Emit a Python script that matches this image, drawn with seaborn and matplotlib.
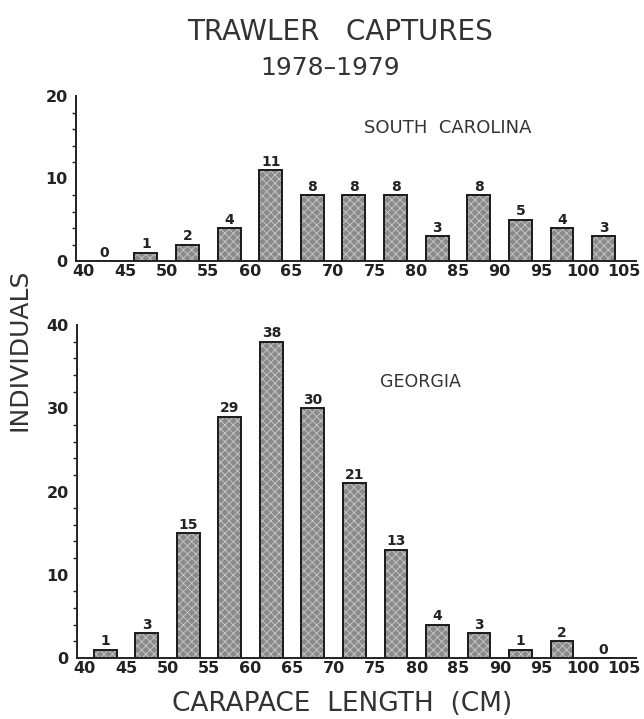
import matplotlib
matplotlib.use("Agg")
import matplotlib.pyplot as plt
import seaborn as sns
import pandas as pd
import numpy as np

# ---- data ----
bin_starts = [40, 45, 50, 55, 60, 65, 70, 75, 80, 85, 90, 95, 100]
south_carolina = [0, 1, 2, 4, 11, 8, 8, 8, 3, 8, 5, 4, 3]
georgia = [1, 3, 15, 29, 38, 30, 21, 13, 4, 3, 1, 2, 0]
x_ticks = [40, 45, 50, 55, 60, 65, 70, 75, 80, 85, 90, 95, 100, 105]

sns.set_theme(style="white")
plt.rcParams["font.family"] = ["DejaVu Sans"]
plt.rcParams["hatch.linewidth"] = 0.6

W, H = 644, 719
fig = plt.figure(figsize=(W / 100, H / 100), dpi=100)
fig.patch.set_facecolor("white")

def axes_px(left, top, right, bottom):
    return fig.add_axes([left / W, 1 - bottom / H, (right - left) / W, (bottom - top) / H])

ax_top = axes_px(76, 96, 636, 261)
ax_bot = axes_px(77, 325, 636, 658)

def draw(ax, values, ymax, yticks, label, lx, ly, lsize):
    df = pd.DataFrame({"center": [b + 2.5 for b in bin_starts], "n": values})
    sns.barplot(data=df, x="center", y="n", native_scale=True, width=0.55,
                color="#8a8a8a", edgecolor="#cacaca", linewidth=0, hatch="xxxx",
                ax=ax, errorbar=None, saturation=1)
    fill_container = ax.containers[-1]
    sns.barplot(data=df, x="center", y="n", native_scale=True, width=0.55,
                fill=False, edgecolor="#1a1a1a", linewidth=1.4,
                ax=ax, errorbar=None)
    ax.bar_label(fill_container, labels=[str(v) for v in values], padding=1,
                 fontsize=10, fontweight="bold", color="#222222")
    ax.set_xlim(39.1, 106.4)
    ax.set_ylim(0, ymax)
    ax.set_xticks(x_ticks)
    ax.set_xticklabels([str(t) for t in x_ticks], fontsize=11.5, fontweight="bold", color="#222222")
    ax.set_yticks(yticks)
    ax.set_yticklabels([str(t) for t in yticks], fontsize=11.5, fontweight="bold", color="#222222")
    ax.set_yticks(np.arange(0, ymax + 0.1, 2), minor=True)
    ax.tick_params(axis="x", which="major", direction="in", length=5, width=1.2,
                   color="#222222", pad=2)
    ax.tick_params(axis="y", which="major", direction="out", length=5, width=1.2,
                   color="#222222", pad=1)
    ax.tick_params(axis="y", which="minor", direction="out", length=3, width=1.0,
                   color="#222222", left=True)
    for s in ["top", "right"]:
        ax.spines[s].set_visible(False)
    for s in ["left", "bottom"]:
        ax.spines[s].set_color("#222222")
        ax.spines[s].set_linewidth(1.4)
    ax.set_xlabel("")
    ax.set_ylabel("")
    ax.set_facecolor("white")
    ax.text(lx, ly, label, transform=ax.transAxes, ha="center", va="center",
            fontsize=lsize, color="#333333")

draw(ax_top, south_carolina, 20, [0, 10, 20], "SOUTH  CAROLINA", (448 - 76) / 560, (261 - 128) / 165, 13)
draw(ax_bot, georgia, 40, [0, 10, 20, 30, 40], "GEORGIA", (420 - 77) / 559, (658 - 382) / 333, 12.5)

fig.text(340 / W, 1 - 32 / H, "TRAWLER   CAPTURES", ha="center", va="center",
         fontsize=20, color="#333333")
fig.text(330 / W, 1 - 68 / H, "1978\u20131979", ha="center", va="center",
         fontsize=18, color="#333333")
fig.text(20 / W, 1 - 350 / H, "INDIVIDUALS", ha="center", va="center",
         rotation=90, fontsize=18, color="#333333")
fig.text(342 / W, 1 - 704 / H, "CARAPACE  LENGTH  (CM)", ha="center", va="center",
         fontsize=19, color="#333333")

fig.savefig("out.png", dpi=100, facecolor="white")
